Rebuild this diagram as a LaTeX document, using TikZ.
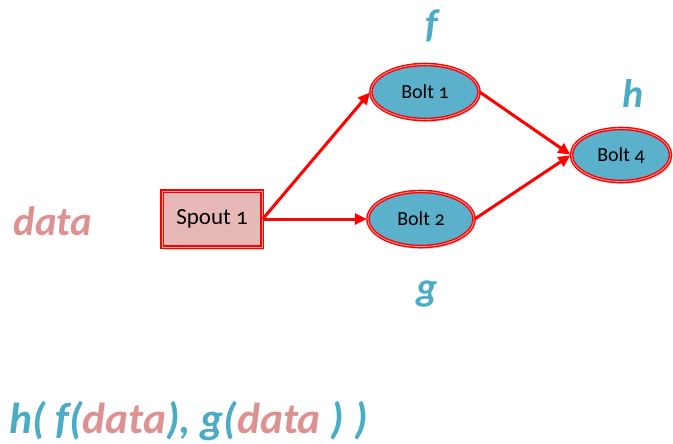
\documentclass[tikz,border=0pt]{standalone}
\usepackage{fontspec}
\setmainfont{Carlito}[Numbers=OldStyle]
\usetikzlibrary{shapes.geometric,arrows.meta,shadows}
\definecolor{aqua}{RGB}{75,172,198}
\definecolor{aquafill}{RGB}{91,177,203}
\definecolor{pinktxt}{RGB}{222,145,145}
\definecolor{spoutfill}{RGB}{230,185,184}
\definecolor{linered}{RGB}{255,0,0}
\tikzset{
  boltnode/.style={ellipse, fill=aquafill, draw=linered, line width=1.4pt, double=white!65!red, double distance=0.8pt, inner sep=0pt, font=\fontsize{20}{23}\selectfont, drop shadow={shadow xshift=1.5pt, shadow yshift=-2.5pt, opacity=0.4, fill=gray}},
  spoutnode/.style={rectangle, fill=spoutfill, draw=linered, line width=1.4pt, double=white!65!red, double distance=0.8pt, inner sep=0pt, font=\fontsize{23}{26}\selectfont, drop shadow={shadow xshift=1.5pt, shadow yshift=-2.5pt, opacity=0.4, fill=gray}},
  flow/.style={draw=linered, line width=3pt, -{Triangle[length=12pt,width=11pt]}, shorten >=0.5pt},
  fnlabel/.style={text=aqua, font=\fontsize{40}{44}\bfseries\itshape\selectfont, anchor=base, inner sep=0pt},
  datalabel/.style={text=pinktxt, font=\fontsize{41}{44}\bfseries\itshape\selectfont, anchor=base, inner sep=0pt},
  formula/.style={font=\fontsize{43.5}{48}\bfseries\itshape\selectfont, anchor=base west, inner sep=0pt, text=aqua}
}
\begin{document}
\begin{tikzpicture}[x=1pt,y=-1pt]
\useasboundingbox (0,0) rectangle (673,444);
\node[spoutnode, minimum width=100pt, minimum height=56pt] (spout) at (212,219) {Spout 1};
\node[boltnode, minimum width=108pt, minimum height=55pt] (b1) at (425,92) {Bolt 1};
\node[boltnode, minimum width=106pt, minimum height=55pt] (b2) at (421,219) {Bolt 2};
\node[boltnode, minimum width=99pt, minimum height=53pt] (b4) at (621,155) {Bolt 4};
\draw[flow] (spout.east) -- (b1.west);
\draw[flow] (spout.east) -- (b2.west);
\draw[flow] (b1.east) -- (b4.west);
\draw[flow] (b2.east) -- (b4.west);
\node[fnlabel] (lf) at (432,38) {f};
\node[fnlabel] (lh) at (633,107) {h};
\node[fnlabel] (lg) at (427,300) {g};
\node[datalabel] (ldata) at (53,235) {data};
\node[formula] (lformula) at (9,433) {h( f(\textcolor{pinktxt}{data}), g(\textcolor{pinktxt}{data} ) )};
\end{tikzpicture}
\end{document}
